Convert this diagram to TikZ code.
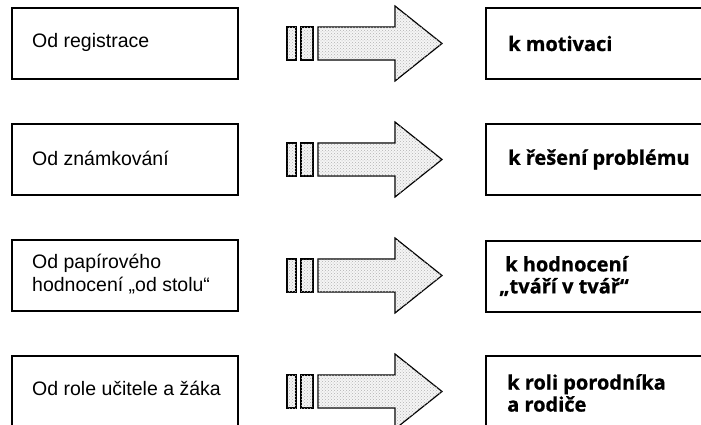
\documentclass[tikz,border=0pt]{standalone}
\usepackage{fontspec}
\setmainfont{Liberation Sans}
\newfontfamily\targetfont[BoldFeatures={FakeBold=0.8}]{Open Sans}
\usetikzlibrary{patterns}

\tikzset{
  panel/.style={draw, line width=1.1pt, inner sep=0pt, minimum height=71pt},
  frombox/.style={panel, minimum width=226pt},
  tobox/.style={panel, minimum width=260pt},
  fromtext/.style={anchor=west, inner sep=0pt, align=left,
    font=\fontsize{19.5}{23}\selectfont},
  totext/.style={anchor=west, inner sep=0pt, align=left,
    font=\targetfont\bfseries\fontsize{20}{22}\selectfont},
  stipple/.style={draw, line width=1.2pt, line join=miter, fill=black!4,
    postaction={pattern=crosshatch dots, pattern color=black!30}},
}

\begin{document}
\begin{tikzpicture}[x=1pt, y=-1pt]
  \useasboundingbox (0,0) rectangle (701,425);
  \clip (0,0) rectangle (701,425);

  % left column: what is left behind
  \node[frombox] (from1) at (125,43.5)  {};
  \node[frombox] (from2) at (125,159.5) {};
  \node[frombox] (from3) at (125,275.5) {};
  \node[frombox] (from4) at (125,391.5) {};
  \node[fromtext] (from1t) at (32,42)  {Od registrace};
  \node[fromtext] (from2t) at (32,158.5) {Od známkování};
  \node[fromtext] (from3t) at (32,274) {Od papírového\\hodnocení „od stolu“};
  \node[fromtext] (from4t) at (32,388) {Od role učitele a žáka};

  % right column: where it leads
  \node[tobox] (to1) at (616,43.5)  {};
  \node[tobox] (to2) at (616,159.5) {};
  \node[tobox] (to3) at (616,276.5) {};
  \node[tobox] (to4) at (616,391.5) {};
  \node[totext] (to1t) at (508,43.5)  {k motivaci};
  \node[totext] (to2t) at (508,159.5) {k řešení problému};
  \node[totext] (to3t) at (499,276)   {\hspace*{6pt}k hodnocení\\„tváří v tvář“};
  \node[totext] (to4t) at (507,393)   {k roli porodníka\\a rodiče};

  % stippled block arrows with two short bars in front
  \foreach \yc in {43.5,159.5,275.5,391.5} {
    \draw[stipple] (287,\yc-16.5) rectangle (296,\yc+16.5);
    \draw[stipple] (301,\yc-16.5) rectangle (313,\yc+16.5);
    \draw[stipple] (318,\yc-16.5) -- (395,\yc-16.5) -- (395,\yc-37.5)
      -- (442,\yc) -- (395,\yc+37.5) -- (395,\yc+16.5) -- (318,\yc+16.5) -- cycle;
  }
\end{tikzpicture}
\end{document}
